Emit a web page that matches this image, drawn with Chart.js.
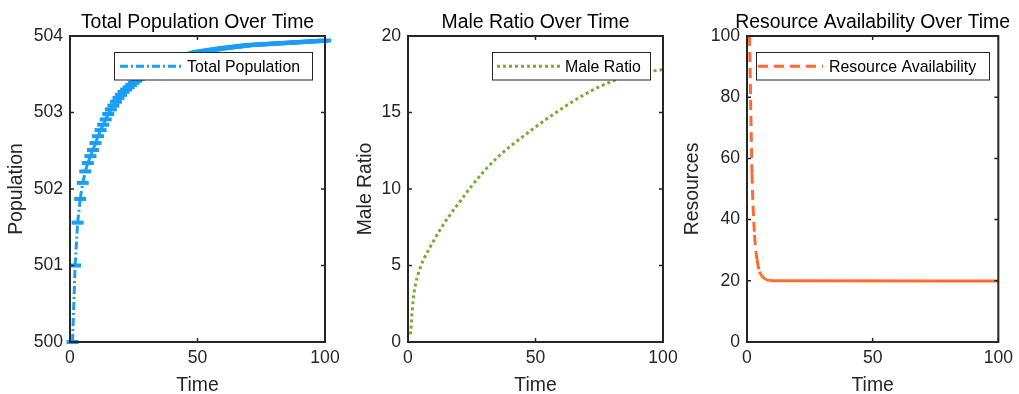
<!DOCTYPE html>
<html>
<head>
<meta charset="utf-8">
<script src="https://cdn.jsdelivr.net/npm/chart.js@4.4.1/dist/chart.umd.min.js"></script>
<style>
  html, body { margin: 0; padding: 0; background: #fff; }
  #wrap { position: relative; width: 1019px; height: 394px; }
  #wrap canvas { position: absolute; left: 0; top: 0; }
</style>
</head>
<body>
<div id="wrap">
  <canvas id="popChart" width="1019" height="394"></canvas>
  <canvas id="maleChart" width="1019" height="394"></canvas>
  <canvas id="resChart" width="1019" height="394"></canvas>
</div>
<script>
// ── Data ──────────────────────────────────────────────────────────────────────
// total population, one value per time step t = 1..100
const popValues = [
  500.00, 501.00, 501.56, 501.87, 502.08, 502.23, 502.34, 502.43, 502.51, 502.60,
  502.69, 502.77, 502.84, 502.91, 502.98, 503.04, 503.09, 503.14, 503.19, 503.23,
  503.27, 503.30, 503.33, 503.36, 503.39, 503.415, 503.44, 503.465, 503.49, 503.51,
  503.53, 503.55, 503.57, 503.59, 503.605, 503.62, 503.635, 503.65, 503.665, 503.68,
  503.695, 503.71, 503.72, 503.73, 503.74, 503.75, 503.76, 503.77, 503.78, 503.79,
  503.795, 503.80, 503.805, 503.81, 503.815, 503.82, 503.825, 503.83, 503.835, 503.84,
  503.844, 503.848, 503.852, 503.856, 503.86, 503.864, 503.868, 503.872, 503.876, 503.88,
  503.882, 503.884, 503.886, 503.888, 503.89, 503.892, 503.894, 503.896, 503.898, 503.90,
  503.902, 503.904, 503.906, 503.908, 503.91, 503.912, 503.914, 503.916, 503.918, 503.92,
  503.922, 503.924, 503.926, 503.928, 503.93, 503.932, 503.934, 503.936, 503.938, 503.94
];
const popTime = popValues.map((v, i) => i + 1);

const maleTime   = [1, 2, 3, 4, 5, 6, 8, 10, 13, 16, 20, 25, 30, 35, 40, 45, 50, 55, 60, 65, 70, 75, 80, 85, 90, 95, 100];
const maleValues = [0.5, 2.7, 3.8, 4.45, 4.95, 5.35, 6.0, 6.6, 7.45, 8.2, 9.1, 10.2, 11.2, 12.05, 12.78, 13.42, 14.05, 14.65, 15.22, 15.76, 16.25, 16.68, 17.04, 17.32, 17.54, 17.69, 17.8];

const resTime   = [1, 2, 3, 4, 5, 6, 7, 8, 9, 10, 12, 100];
const resValues = [100, 55, 35, 27, 23, 21.5, 20.7, 20.3, 20.15, 20.05, 20.0, 19.9];

const xTicks = [0, 50, 100];

// ── Styling ──────────────────────────────────────────────────────────────────
const FONT = '"Liberation Sans", Arial, Helvetica, sans-serif';
const INK = '#262626';
const BLUE = '#1a9ef5';
const GREEN = '#77ac30';
const ORANGE = '#ff6b2e';
const W = 1019, H = 394;

const toXY = (xs, ys) => xs.map((x, i) => ({ x, y: ys[i] }));
// restart the dash pattern on every segment (as the original renderer does)
const restartDash = c => (c.p0DataIndex % 2 ? 0.001 : 0);

function framePlugin(cfg) {
  return {
    id: 'frame_' + cfg.id,
    afterDatasetsDraw(chart) {
      const { ctx, chartArea: a, scales: { x, y } } = chart;
      ctx.save();
      ctx.setLineDash([]);

      // inward tick marks on all four sides
      ctx.strokeStyle = INK;
      ctx.lineWidth = 1.5;
      ctx.beginPath();
      x.ticks.forEach(t => {
        const px = x.getPixelForValue(t.value);
        ctx.moveTo(px, a.bottom); ctx.lineTo(px, a.bottom - 4);
        ctx.moveTo(px, a.top); ctx.lineTo(px, a.top + 4);
      });
      y.ticks.forEach(t => {
        const py = y.getPixelForValue(t.value);
        ctx.moveTo(a.left, py); ctx.lineTo(a.left + 4, py);
        ctx.moveTo(a.right, py); ctx.lineTo(a.right - 4, py);
      });
      ctx.stroke();

      // legend box
      const lg = cfg.legend;
      ctx.fillStyle = '#fff';
      ctx.fillRect(lg.x0, lg.y0, lg.x1 - lg.x0, lg.y1 - lg.y0);
      ctx.strokeStyle = INK;
      ctx.lineWidth = 1;
      ctx.strokeRect(lg.x0, lg.y0, lg.x1 - lg.x0, lg.y1 - lg.y0);
      const ly = (lg.y0 + lg.y1) / 2;
      ctx.strokeStyle = cfg.color;
      ctx.lineWidth = 3;
      ctx.setLineDash(cfg.dash);
      ctx.beginPath();
      ctx.moveTo(lg.s0, ly); ctx.lineTo(lg.s1, ly);
      ctx.stroke();
      ctx.setLineDash([]);
      ctx.fillStyle = '#000';
      ctx.font = '15.9px ' + FONT;
      ctx.textAlign = 'left';
      ctx.textBaseline = 'middle';
      ctx.fillText(cfg.label, lg.tx, ly + 1);

      // axes box
      ctx.strokeStyle = INK;
      ctx.lineWidth = 2;
      ctx.strokeRect(a.left, a.top, a.right - a.left, a.bottom - a.top);

      // title and axis labels
      const cx = (a.left + a.right) / 2;
      ctx.fillStyle = '#000';
      ctx.font = '19.4px ' + FONT;
      ctx.textAlign = 'center';
      ctx.textBaseline = 'alphabetic';
      ctx.fillText(cfg.title, cx, 28.3);
      ctx.fillStyle = INK;
      ctx.fillText('Time', cx, 391);
      ctx.save();
      ctx.translate(cfg.yLabelX, (a.top + a.bottom) / 2);
      ctx.rotate(-Math.PI / 2);
      ctx.fillText(cfg.yLabel, 0, 0);
      ctx.restore();

      ctx.restore();
    }
  };
}

function buildChart(cfg) {
  const tickFont = { family: FONT, size: 17.6 };
  return new Chart(document.getElementById(cfg.id), {
    type: 'line',
    data: { datasets: cfg.datasets },
    options: {
      responsive: false,
      animation: false,
      devicePixelRatio: 1,
      layout: { padding: { left: cfg.area.left - 60, right: W - cfg.area.right, top: cfg.area.top, bottom: 0 } },
      plugins: { legend: { display: false }, tooltip: { enabled: false } },
      scales: {
        x: {
          type: 'linear', min: 0, max: 100,
          afterFit: s => { s.height = H - cfg.area.bottom; },
          afterBuildTicks: s => { s.ticks = xTicks.map(v => ({ value: v })); },
          ticks: { padding: 6, color: INK, font: tickFont, maxRotation: 0 },
          grid: { display: false, drawTicks: false },
          border: { display: false }
        },
        y: {
          type: 'linear', min: cfg.yMin, max: cfg.yMax,
          afterFit: s => { s.width = 60; },
          ticks: { stepSize: cfg.yStep, padding: 7, color: INK, font: tickFont },
          grid: { display: false, drawTicks: false },
          border: { display: false }
        }
      }
    },
    plugins: [framePlugin(cfg)]
  });
}

buildChart({
  id: 'popChart',
  area: { left: 70, right: 325, top: 36, bottom: 342 },
  yMin: 500, yMax: 504, yStep: 1,
  title: 'Total Population Over Time', yLabel: 'Population', yLabelX: 22.3,
  label: 'Total Population', color: BLUE, dash: [8, 3, 2, 3],
  legend: { x0: 114.5, y0: 52.5, x1: 312.5, y1: 80, s0: 120, s1: 181, tx: 187 },
  datasets: [{
    data: toXY(popTime, popValues),
    borderColor: BLUE, borderWidth: 3, borderDash: [8, 3, 2, 3],
    pointStyle: 'line', pointRadius: 6, pointBorderWidth: 4,
    pointBorderColor: BLUE, pointBackgroundColor: BLUE,
    tension: 0, clip: 10,
    segment: { borderDashOffset: restartDash }
  }]
});

buildChart({
  id: 'maleChart',
  area: { left: 408, right: 663, top: 36, bottom: 342 },
  yMin: 0, yMax: 20, yStep: 5,
  title: 'Male Ratio Over Time', yLabel: 'Male Ratio', yLabelX: 370.7,
  label: 'Male Ratio', color: GREEN, dash: [3, 3],
  legend: { x0: 492.5, y0: 52.5, x1: 650.5, y1: 80, s0: 497, s1: 560, tx: 565 },
  datasets: [{
    data: toXY(maleTime, maleValues),
    borderColor: GREEN, borderWidth: 3, borderDash: [3, 3],
    pointRadius: 0, cubicInterpolationMode: 'monotone'
  }]
});

buildChart({
  id: 'resChart',
  area: { left: 747, right: 1001, top: 36, bottom: 342 },
  yMin: 0, yMax: 100, yStep: 20,
  title: 'Resource Availability Over Time', yLabel: 'Resources', yLabelX: 698.3,
  label: 'Resource Availability', color: ORANGE, dash: [10, 6],
  legend: { x0: 756.5, y0: 52.5, x1: 989.5, y1: 80, s0: 758, s1: 823, tx: 829 },
  datasets: [{
    data: toXY(resTime, resValues),
    borderColor: ORANGE, borderWidth: 3, borderDash: [10, 6],
    pointRadius: 0, cubicInterpolationMode: 'monotone', clip: 4,
    segment: {
      borderDash: c => (Math.abs(c.p1.parsed.y - c.p0.parsed.y) < 0.5 ? [] : [10, 6]),
      borderDashOffset: restartDash
    }
  }]
});
</script>
</body>
</html>
